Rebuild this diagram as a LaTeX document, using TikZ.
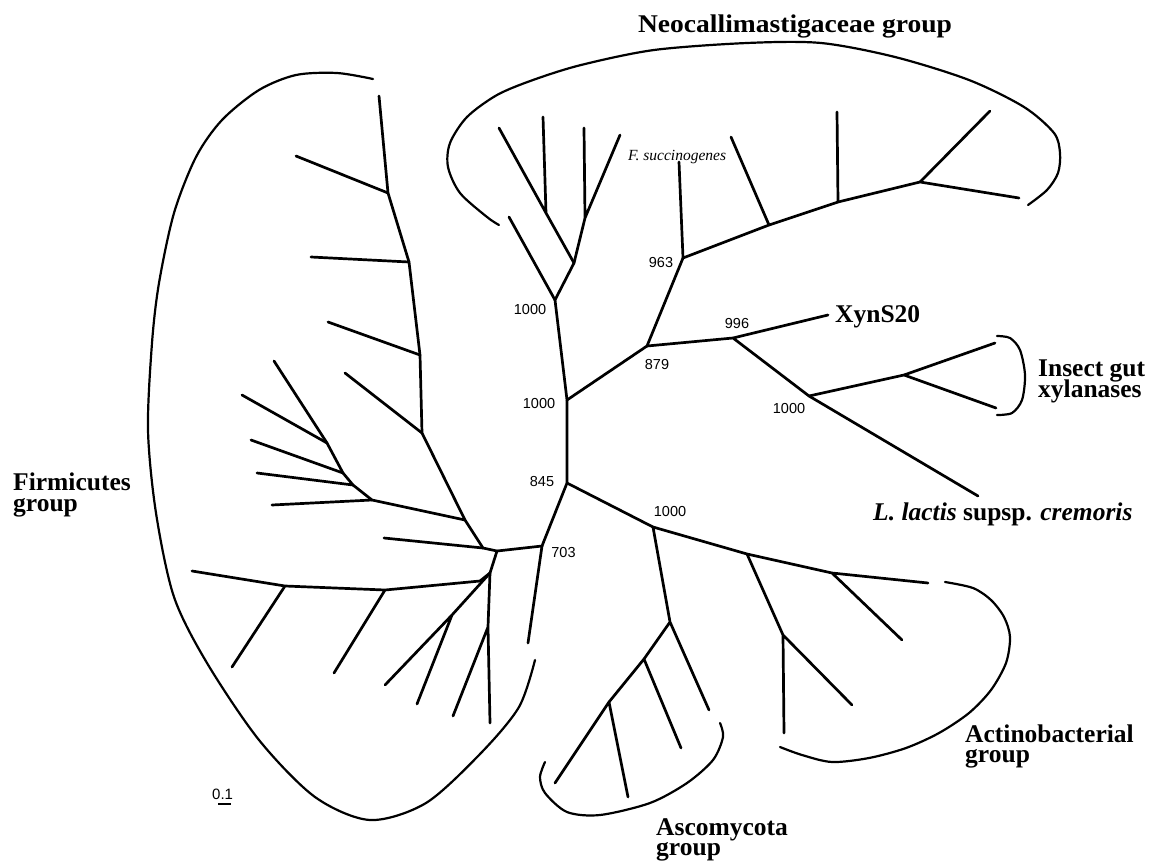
\documentclass[tikz,border=0pt]{standalone}
\usepackage{fontspec}
\setmainfont{Liberation Serif}
\newfontfamily\numfont{Liberation Sans}
\tikzset{
  br/.style={line width=2.7pt, line cap=round, line join=round},
  grp/.style={line width=2.2pt, line cap=round},
  lbl/.style={font=\fontsize{25.5}{25.5}\selectfont\bfseries, inner sep=0pt, anchor=base west},
  bs/.style={font=\numfont\fontsize{14.5}{14.5}\selectfont, inner sep=0pt, anchor=base},
}
\begin{document}
\begin{tikzpicture}[x=1pt,y=-1pt]
\useasboundingbox (0,0) rectangle (1156,862);
% ---------- central trunk
\coordinate (n1000a) at (555,300);
\coordinate (n1000b) at (567,400);
\coordinate (n845) at (567,483);
\coordinate (n703) at (542,546);
\coordinate (n879) at (647,346);
\coordinate (n963) at (683,258);
\coordinate (n996) at (733,338);
\coordinate (n1000c) at (809,396);
\coordinate (nT) at (653,527);
% ---------- Firmicutes
\coordinate (fTop) at (379,96);
\coordinate (fA) at (388,193);
\coordinate (fB) at (409,262);
\coordinate (fC) at (420,355);
\coordinate (fD) at (422,433);
\coordinate (fE) at (465,520);
\coordinate (fF) at (483,548);
\coordinate (fK) at (497,551);
\coordinate (fL) at (490,573);
\coordinate (fAl) at (296,156);
\coordinate (fBl) at (311,257);
\coordinate (fCl) at (328,322);
\coordinate (fDl) at (345,373);
\coordinate (fG) at (372,500);
\coordinate (fH) at (353,485);
\coordinate (fI) at (343,473);
\coordinate (fJ) at (327,443);
\coordinate (fJt) at (274,361);
\coordinate (fJl) at (242,395);
\coordinate (fIl) at (251,440);
\coordinate (fHl) at (257,473);
\coordinate (fGl) at (272,505);
\coordinate (fFl) at (384,538);
\coordinate (fM) at (480,581);
\coordinate (fM2) at (385,590);
\coordinate (fM3) at (285,586);
\coordinate (fMe) at (192,571);
\coordinate (fM2l) at (334,673);
\coordinate (fM3l) at (232,667);
\coordinate (fN1) at (452,615);
\coordinate (fN1e) at (385,685);
\coordinate (fN1l) at (417,704);
\coordinate (fN2) at (488,627);
\coordinate (fN2e) at (490,723);
\coordinate (fN2l) at (453,716);
\coordinate (n703l) at (528,643);
% ---------- Neocallimastigaceae
\coordinate (nAl) at (509,217);
\coordinate (nP) at (574,263);
\coordinate (nQ) at (546,213);
\coordinate (nQe) at (499,128);
\coordinate (nQl) at (543,117);
\coordinate (nR) at (585,218);
\coordinate (nRe) at (620,135);
\coordinate (nRl) at (584,128);
\coordinate (nF) at (679,162);
\coordinate (nS1) at (769,225);
\coordinate (nS2) at (838,202);
\coordinate (nS3) at (920,182);
\coordinate (nS1l) at (731,137);
\coordinate (nS2l) at (837,112);
\coordinate (nS3a) at (1019,198);
\coordinate (nS3b) at (990,111);
% ---------- XynS20, insect gut, L. lactis
\coordinate (nXyn) at (828,315);
\coordinate (nLl) at (978,496);
\coordinate (nI) at (904,375);
\coordinate (nIa) at (995,343);
\coordinate (nIb) at (996,408);
% ---------- Actinobacteria / Ascomycota
\coordinate (nU) at (747,554);
\coordinate (nV) at (832,573);
\coordinate (nVa) at (928,583);
\coordinate (nVb) at (902,640);
\coordinate (nW) at (783,635);
\coordinate (nWa) at (852,705);
\coordinate (nWb) at (784,733);
\coordinate (nX2) at (670,622);
\coordinate (nXa) at (709,710);
\coordinate (nY) at (644,659);
\coordinate (nYa) at (681,748);
\coordinate (nZ) at (609,702);
\coordinate (nZa) at (555,783);
\coordinate (nZb) at (628,797);

% ---------- tree edges
\draw[br] (n1000a)--(n1000b)--(n845)--(n703)--(fK);
\draw[br] (fTop)--(fA)--(fB)--(fC)--(fD)--(fE)--(fF)--(fK);
\draw[br] (fAl)--(fA) (fBl)--(fB) (fCl)--(fC) (fDl)--(fD);
\draw[br] (fJt)--(fJ)--(fI)--(fH)--(fG)--(fE);
\draw[br] (fJl)--(fJ) (fIl)--(fI) (fHl)--(fH) (fGl)--(fG) (fFl)--(fF);
\draw[br] (fK)--(fL) (fL)--(fM)--(fM2)--(fM3)--(fMe) (fM2)--(fM2l) (fM3)--(fM3l);
\draw[br] (fL)--(fN1)--(fN1e) (fN1)--(fN1l);
\draw[br] (fL)--(fN2)--(fN2e) (fN2)--(fN2l);
\draw[br] (n703)--(n703l);

\draw[br] (n1000a)--(nAl) (n1000a)--(nP);
\draw[br] (nP)--(nQ)--(nQe) (nQ)--(nQl);
\draw[br] (nP)--(nR)--(nRe) (nR)--(nRl);

\draw[br] (n1000b)--(n879)--(n963)--(nS1)--(nS2)--(nS3)--(nS3a);
\draw[br] (nS3)--(nS3b) (nS2)--(nS2l) (nS1)--(nS1l) (n963)--(nF);

\draw[br] (n879)--(n996)--(nXyn) (n996)--(n1000c)--(nLl);
\draw[br] (n1000c)--(nI)--(nIa) (nI)--(nIb);

\draw[br] (n845)--(nT)--(nU)--(nV)--(nVa) (nV)--(nVb);
\draw[br] (nU)--(nW)--(nWa) (nW)--(nWb);
\draw[br] (nT)--(nX2)--(nXa) (nX2)--(nY)--(nYa) (nY)--(nZ)--(nZa) (nZ)--(nZb);

% ---------- group outlines
\draw[grp] plot[smooth] coordinates {(373,79) (337,73) (296,75) (259,90) (222,120) (196,157) (174,213) (159,283) (152,343) (148,430) (156,513) (174,597) (207,663) (259,740) (315,797) (370,820) (426,803) (481,753) (519,707) (535,660)};
\draw[grp] plot[smooth] coordinates {(499,225) (487,217) (460,193) (448,167) (450,143) (467,117) (497,95) (533,80) (581,65) (654,50) (747,43) (821,43) (895,57) (969,80) (1024,107) (1054,133) (1060,153) (1058,173) (1047,190) (1028,205)};
\draw[grp] plot[smooth] coordinates {(997,336) (1010,338) (1020,350) (1025,375) (1022,400) (1012,413) (997,415)};
\draw[grp] plot[smooth] coordinates {(945,582) (973,588) (991,600) (1004,617) (1010,637) (1006,663) (991,690) (969,713) (939,733) (906,748) (869,758) (832,762) (802,755) (780,747)};
\draw[grp] plot[smooth] coordinates {(720,723) (723,737) (713,760) (687,783) (650,803) (600,815) (567,812) (545,793) (540,777) (545,762)};

% ---------- bootstrap values
\node[bs] (b1000a) at (530,314) {1000};
\node[bs] (b1000b) at (539,408) {1000};
\node[bs] (b845) at (542,486) {845};
\node[bs] (b879) at (657,369) {879};
\node[bs] (b963) at (661,267) {963};
\node[bs] (b996) at (737,328) {996};
\node[bs] (b1000c) at (789,413) {1000};
\node[bs] (b1000t) at (670,516) {1000};
\node[bs] (b703) at (563.5,557) {703};

% ---------- labels
\node[lbl, anchor=base] (tNeo) at (795,32) {\scalebox{1.08}[1]{Neocallimastigaceae group}};
\node[lbl] (tFir1) at (13,490) {Firmicutes};
\node[lbl] (tFir2) at (13,511) {group};
\node[lbl] (tXyn) at (835,322) {XynS20};
\node[lbl] (tIns1) at (1038,376) {Insect gut};
\node[lbl] (tIns2) at (1038,397) {xylanases};
\node[lbl] (tLl) at (873,520) {\textit{L. lactis} supsp. \textit{cremoris}};
\node[lbl] (tAct1) at (965,742) {Actinobacterial};
\node[lbl] (tAct2) at (965,762) {group};
\node[lbl] (tAsc1) at (656,835) {Ascomycota};
\node[lbl] (tAsc2) at (656,855) {group};
\node[font=\itshape\fontsize{15.5}{15.5}\selectfont, inner sep=0pt, anchor=base west] (tFs) at (628,160) {F. succinogenes};

% ---------- scale bar
\node[font=\numfont\fontsize{15}{15}\selectfont, inner sep=0pt, anchor=base west] (tScale) at (212,799) {0.1};
\coordinate (sb1) at (218,804);
\coordinate (sb2) at (231,804);
\draw[line width=2.5pt] (sb1)--(sb2);
\end{tikzpicture}
\end{document}
